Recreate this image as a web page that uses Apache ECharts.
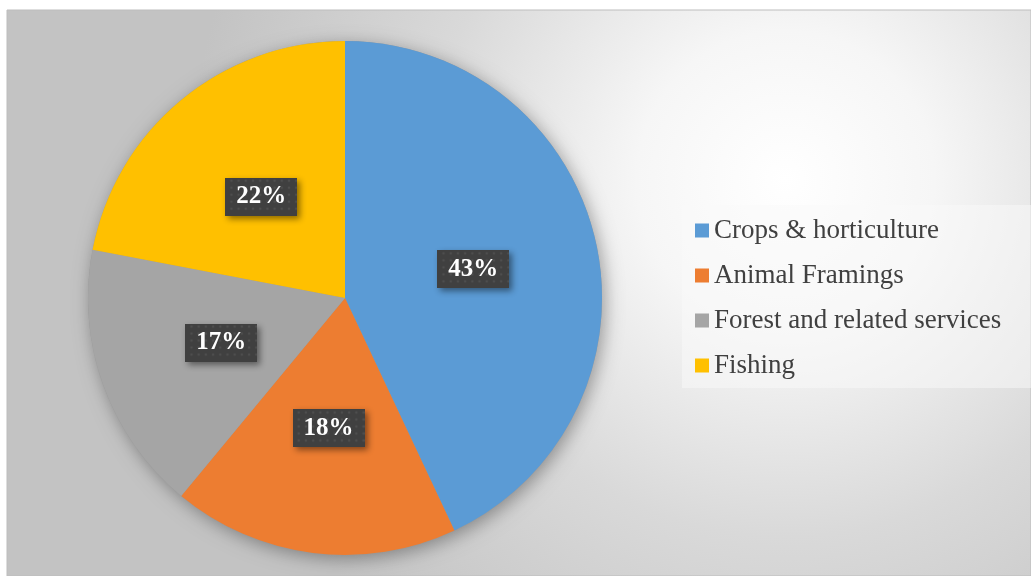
<!DOCTYPE html>
<html>
<head>
<meta charset="utf-8">
<script src="https://cdn.jsdelivr.net/npm/echarts@6/dist/echarts.min.js"></script>
<style>
html,body{margin:0;padding:0;background:#fff;}
#c{width:1031px;height:576px;}
</style>
</head>
<body>
<div id="c"></div>
<script>
const categories = ['Crops & horticulture', 'Animal Framings', 'Forest and related services', 'Fishing'];
const values = [43, 18, 17, 22];
const colors = ['#5B9BD5', '#ED7D31', '#A5A5A5', '#FFC000'];

// dotted dark pattern for label boxes
function makePattern(w, h) {
  const cv = document.createElement('canvas');
  cv.width = w; cv.height = h;
  const ctx = cv.getContext('2d');
  ctx.fillStyle = '#404040';
  ctx.fillRect(0, 0, w, h);
  ctx.fillStyle = '#4e4e4e';
  for (let y = 3; y < h; y += 7) {
    for (let x = 3 + ((y / 7) % 2 ? 3 : 0); x < w; x += 7) {
      ctx.beginPath(); ctx.arc(x, y, 1.3, 0, Math.PI * 2); ctx.fill();
    }
  }
  return cv;
}
const pat = makePattern(70, 38);

const chart = echarts.init(document.getElementById('c'), null, {renderer: 'canvas'});
chart.setOption({
  animation: false,
  graphic: [{
    type: 'rect', z: -10, silent: true,
    shape: {x: 7, y: 10, width: 1024, height: 566},
    style: {
      fill: {
        type: 'radial', x: 0.76, y: 0.3, r: 1.05,
        colorStops: [
          {offset: 0, color: '#ffffff'},
          {offset: 0.25, color: '#f6f6f6'},
          {offset: 0.6, color: '#d9d9d9'},
          {offset: 1, color: '#c3c3c3'}
        ]
      },
      stroke: '#bdbdbd', lineWidth: 1
    }
  }],
  legend: {
    orient: 'vertical',
    left: 682, top: 205,
    data: categories,
    icon: 'rect',
    itemWidth: 14, itemHeight: 14,
    itemGap: 18,
    padding: [12, 40, 9, 13],
    backgroundColor: 'rgba(250,250,250,0.5)',
    textStyle: {fontFamily: 'Liberation Serif', fontSize: 27, color: '#404040'}
  },
  series: [{
    type: 'pie',
    silent: true,
    center: [345, 298],
    radius: 257,
    z: 1,
    label: {show: false},
    itemStyle: {color: '#999', shadowBlur: 18, shadowColor: 'rgba(0,0,0,0.35)', shadowOffsetX: 3, shadowOffsetY: 4},
    data: [{value: 1, name: '_bg'}],
    legendHoverLink: false
  }, {
    type: 'pie',
    center: [345, 298],
    radius: 257,
    startAngle: 90,
    clockwise: true,
    z: 2,
    data: categories.map((n, i) => ({name: n, value: values[i], itemStyle: {color: colors[i]}})),
    label: {
      show: true,
      position: 'inside',
      formatter: '{c}%',
      fontFamily: 'Liberation Serif',
      fontWeight: 'bold',
      fontSize: 25,
      color: '#ffffff',
      backgroundColor: {image: pat},
      padding: [7, 11, 6, 11],
      shadowColor: 'rgba(0,0,0,0.45)',
      shadowBlur: 6,
      shadowOffsetX: 3,
      shadowOffsetY: 3
    },
    labelLine: {show: false}
  }]
});
</script>
</body>
</html>
